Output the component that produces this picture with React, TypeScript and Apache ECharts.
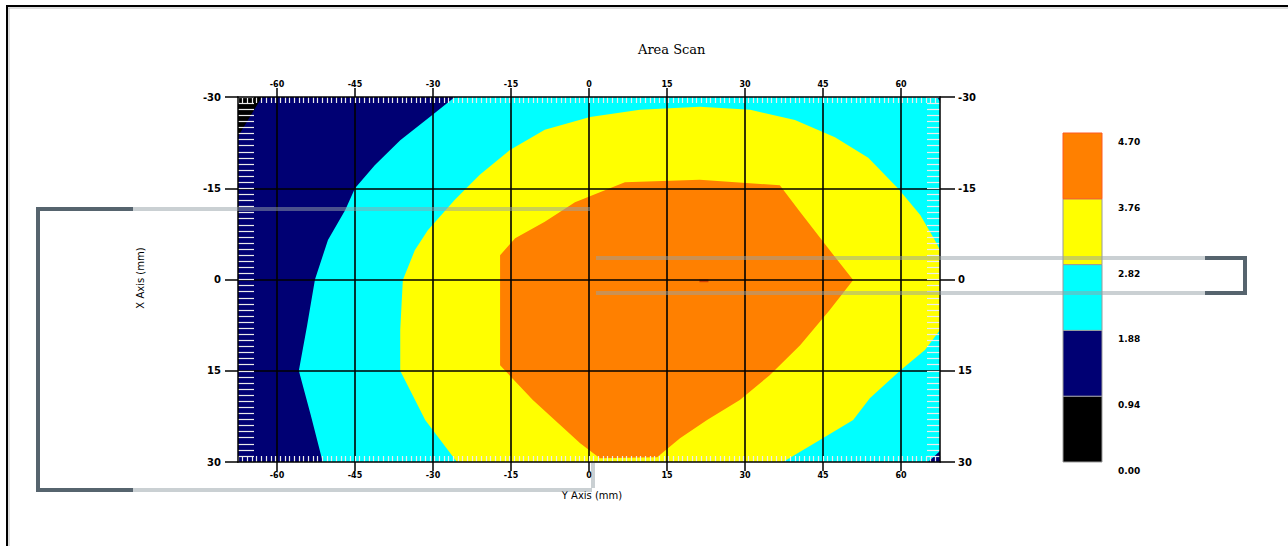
import React, { useEffect, useRef } from "react";
import * as echarts from "echarts";

// ---- axis ticks / labels ----
const xTicks = [-60, -45, -30, -15, 0, 15, 30, 45, 60];
const yTicks = [-30, -15, 0, 15, 30];
const xGridLines = [-60, -45, -30, -15, 0, 15, 30, 45, 60];
const yGridLines = [-15, 0, 15];

// ---- legend ----
const levelLabels = ["0.00", "0.94", "1.88", "2.82", "3.76", "4.70"];
const bandColors = ["#000000", "#000073", "#00ffff", "#ffff00", "#ff8000"];

// ---- contour bands (Y Axis mm, X Axis mm) ----
const navyBand = [[-67.5, -30], [67.5, -30], [67.5, 30], [-67.5, 30]];
const blackCorner = [[-67.5, -30], [-62.9, -30], [-67.5, -23.5]];
const cyanBand = [
  [-25.8, -30], [66.9, -30], [67.5, -29.3], [67.5, 28.2], [65.2, 30],
  [-51.2, 30], [-53.5, 22.3], [-55.8, 15], [-54.2, 7.5], [-52.7, 0],
  [-50.2, -6.5], [-46.9, -11.4], [-45.0, -15], [-41.2, -18.8],
  [-36.3, -22.9], [-30.2, -27.0],
];
const yellowBand = [
  [-25.4, 30], [-31.5, 23.1], [-36.3, 15.0], [-36.3, 8.3], [-35.8, 0.1],
  [-33.5, -4.8], [-31.0, -8.1], [-25.8, -13.1], [-21.0, -17.2], [-15.2, -21.3],
  [-8.5, -24.6], [0.2, -26.7], [9.8, -27.9], [21.3, -28.4], [31.0, -27.9],
  [39.6, -26.2], [47.3, -23.4], [53.7, -20.0], [59.4, -15.0], [63.7, -10.6],
  [66.5, -6.5], [67.5, -4.8], [67.5, 8.3], [64.6, 11.6], [59.8, 15.0],
  [54.0, 19.5], [50.8, 23.1], [44.4, 26.4], [37.3, 30],
];
const orangeBand = [
  [-17.1, -4.0], [-14.2, -6.8], [-8.5, -9.5], [-2.7, -12.7], [6.9, -16.0],
  [21.3, -16.4], [36.7, -15.5], [40.6, -11.1], [46.3, -4.8], [50.8, 0.1],
  [46.3, 5.0], [40.6, 10.8], [34.8, 15.7], [29.0, 19.8], [22.7, 23.1],
  [17.5, 26.1], [13.1, 29.2], [2.1, 29.4], [-1.7, 26.9], [-10.8, 19.8],
  [-17.1, 14.1],
];
const peakPoint = [[22.1, 0.2]];

const FONT = "DejaVu Sans";

function polySeries(name: string, pts: number[][], color: string) {
  return {
    type: "custom",
    name,
    clip: true,
    silent: true,
    z: 2,
    xAxisIndex: 0,
    yAxisIndex: 0,
    data: [[0, 0]],
    renderItem: (_params: any, api: any) => ({
      type: "polygon",
      shape: { points: pts.map((p) => api.coord(p)) },
      style: { fill: color },
    }),
  };
}

export default function App() {
  const ref = useRef<HTMLDivElement>(null);
  useEffect(() => {
    if (!ref.current) return;
    const chart = echarts.init(ref.current, null, { renderer: "svg" });

    const legendTop = 133;
    const legendH = 65.8;
    const legendGraphics: any[] = [];
    bandColors.forEach((c, i) => {
      legendGraphics.push({
        type: "rect",
        z: 100,
        shape: { x: 1063, y: legendTop + (bandColors.length - 1 - i) * legendH, width: 39, height: legendH },
        style: { fill: c, stroke: i === 4 ? "#ff5a20" : "#9a9a9a", lineWidth: 1 },
      });
    });
    levelLabels.forEach((t, i) => {
      legendGraphics.push({
        type: "text",
        z: 100,
        x: 1118,
        y: legendTop + bandColors.length * legendH - i * legendH + 9,
        style: { text: t, fill: "#000", font: `bold 9px "${FONT}"`, align: "left", verticalAlign: "middle" },
      });
    });

    const dark = "#56646e";
    const light = "rgba(150,162,168,0.5)";
    const seg = (x1: number, y1: number, x2: number, y2: number, color: string) => ({
      type: "line",
      z: 120,
      silent: true,
      shape: { x1, y1, x2, y2 },
      style: { stroke: color, lineWidth: 4 },
    });

    const overlay = [
      // left bracket
      seg(38, 209, 133, 209, dark),
      seg(38, 207, 38, 492, dark),
      seg(38, 490, 133, 490, dark),
      seg(133, 209, 590, 209, light),
      seg(133, 490, 592, 490, light),
      seg(593, 463, 593, 488, light),
      // right bracket
      seg(596, 258, 1205, 258, light),
      seg(596, 293, 1205, 293, light),
      seg(1205, 258, 1245, 258, dark),
      seg(1205, 293, 1245, 293, dark),
      seg(1245, 256, 1245, 295, dark),
      // page frame
      { type: "line", z: 130, shape: { x1: 6, y1: 6, x2: 1288, y2: 6 }, style: { stroke: "#000", lineWidth: 2 } },
      { type: "line", z: 130, shape: { x1: 7, y1: 5, x2: 7, y2: 546 }, style: { stroke: "#000", lineWidth: 2 } },
      { type: "line", z: 129, shape: { x1: 8, y1: 8, x2: 1288, y2: 8 }, style: { stroke: "#bbb", lineWidth: 1 } },
      { type: "line", z: 129, shape: { x1: 9, y1: 8, x2: 9, y2: 546 }, style: { stroke: "#bbb", lineWidth: 1 } },
      // axis names
      {
        type: "text", z: 100, x: 592, y: 495,
        style: { text: "Y Axis (mm)", fill: "#000", font: `10px "${FONT}"`, align: "center", verticalAlign: "middle" },
      },
      {
        type: "text", z: 100, x: 140, y: 278, rotation: Math.PI / 2,
        style: { text: "X Axis (mm)", fill: "#000", font: `10px "${FONT}"`, align: "center", verticalAlign: "middle" },
      },
    ];

    const mainX = (position: "top" | "bottom") => ({
      type: "value",
      position,
      min: -67.5,
      max: 67.5,
      z: 6,
      axisLine: { show: true, onZero: false, lineStyle: { color: "#000", width: 1.5 } },
      axisTick: { show: true, customValues: xTicks, length: 9, lineStyle: { color: "#000", width: 1.5 } },
      axisLabel: {
        show: true, customValues: xTicks, margin: 9, color: "#000",
        fontSize: 8, fontWeight: "bold", fontFamily: FONT,
      },
      splitLine: { show: false },
    });
    const minorX = (position: "top" | "bottom") => ({
      type: "value",
      position,
      min: -67.5,
      max: 67.5,
      interval: 0.9,
      z: 5,
      axisLine: { show: false, onZero: false },
      axisTick: { show: true, inside: true, length: 6, lineStyle: { color: "#ececec", width: 1.2 } },
      axisLabel: { show: false },
      splitLine: { show: false },
    });
    const mainY = (position: "left" | "right") => ({
      type: "value",
      position,
      inverse: true,
      min: -30,
      max: 30,
      interval: 15,
      z: 6,
      axisLine: { show: true, onZero: false, lineStyle: { color: "#000", width: 1.5 } },
      axisTick: { show: true, length: position === "left" ? 13 : 15, lineStyle: { color: "#000", width: 1.5 } },
      axisLabel: {
        show: true, margin: position === "left" ? 17 : 18, color: "#000",
        fontSize: 10, fontWeight: "bold", fontFamily: FONT,
      },
      splitLine: { show: false },
    });
    const minorY = (position: "left" | "right") => ({
      type: "value",
      position,
      inverse: true,
      min: -30,
      max: 30,
      interval: 1,
      z: 5,
      axisLine: { show: false, onZero: false },
      axisTick: { show: true, inside: true, length: position === "left" ? 16 : 13, lineStyle: { color: "#ececec", width: 1.2 } },
      axisLabel: { show: false },
      splitLine: { show: false },
    });

    chart.setOption({
      animation: false,
      backgroundColor: "#ffffff",
      title: {
        text: "Area Scan",
        left: 633,
        top: 38,
        textStyle: { fontFamily: "DejaVu Serif", fontSize: 13, fontWeight: "normal", color: "#000" },
      },
      grid: { left: 238, top: 97, width: 702, height: 365, containLabel: false },
      xAxis: [mainX("bottom"), mainX("top"), minorX("top"), minorX("bottom")],
      yAxis: [mainY("left"), mainY("right"), minorY("left"), minorY("right")],
      series: [
        polySeries("0.94-1.88", navyBand, bandColors[1]),
        polySeries("0.00-0.94", blackCorner, bandColors[0]),
        polySeries("1.88-2.82", cyanBand, bandColors[2]),
        polySeries("2.82-3.76", yellowBand, bandColors[3]),
        polySeries("3.76-4.70", orangeBand, bandColors[4]),
        {
          type: "scatter",
          name: "peak",
          xAxisIndex: 0,
          yAxisIndex: 0,
          z: 3,
          silent: true,
          symbol: "rect",
          symbolSize: [9, 3],
          itemStyle: { color: "#c83200" },
          data: peakPoint,
        },
        {
          type: "line",
          name: "grid",
          xAxisIndex: 0,
          yAxisIndex: 0,
          data: [],
          z: 4,
          markLine: {
            silent: true,
            symbol: ["none", "none"],
            label: { show: false },
            lineStyle: { color: "#000", width: 1.6, type: "solid" },
            data: [
              ...xGridLines.map((v) => ({ xAxis: v })),
              ...yGridLines.map((v) => ({ yAxis: v })),
            ],
          },
        },
      ],
      graphic: [...legendGraphics, ...overlay],
    });

    return () => chart.dispose();
  }, []);

  return (
    <div
      ref={ref}
      style={{ position: "fixed", left: 0, top: 0, width: 1288, height: 546 }}
    />
  );
}
